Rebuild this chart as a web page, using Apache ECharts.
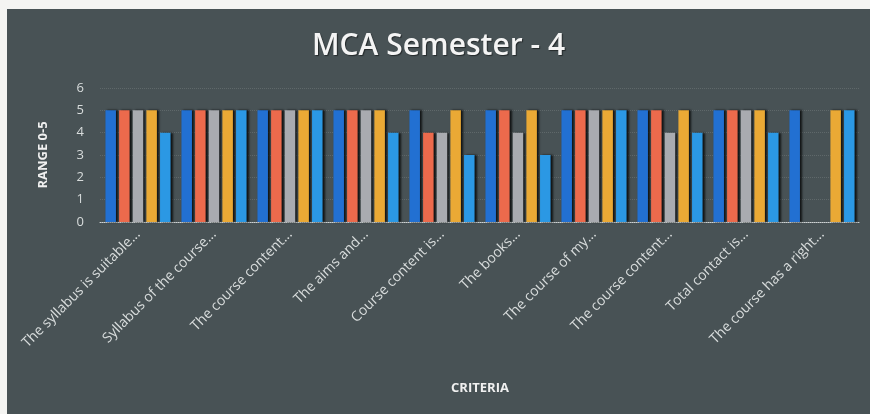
<!DOCTYPE html>
<html>
<head>
<meta charset="utf-8">
<script src="https://cdn.jsdelivr.net/npm/echarts@6/dist/echarts.min.js"></script>
<style>
  html, body { margin: 0; padding: 0; background: #f4f4f2; }
  #frame { position: absolute; left: 7px; top: 9px; width: 863px; height: 405px; background: #485255; }
  #chart { width: 100%; height: 100%; }
</style>
</head>
<body>
<div id="frame"><div id="chart"></div></div>
<script>
// 评价项目（横轴）
const criteria = [
  'The syllabus is suitable...',
  'Syllabus of the course...',
  'The course content...',
  'The aims and...',
  'Course content is...',
  'The books...',
  'The course of my...',
  'The course content...',
  'Total contact is...',
  'The course has a right...'
]

// 各系列评分
const series1 = [5, 5, 5, 5, 5, 5, 5, 5, 5, 5]
const series2 = [5, 5, 5, 5, 4, 5, 5, 5, 5, 0]
const series3 = [5, 5, 5, 5, 4, 4, 5, 4, 5, 0]
const series4 = [5, 5, 5, 5, 5, 5, 5, 5, 5, 5]
const series5 = [4, 5, 5, 4, 3, 3, 5, 4, 4, 5]

const seriesNames = ['Series 1', 'Series 2', 'Series 3', 'Series 4', 'Series 5']
const colors = ['#2270d2', '#ec6a4c', '#a9abb0', '#eaa935', '#2b98e4']

const chart = echarts.init(document.getElementById('chart'))

const makeBar = (name, data, color) => ({
  name,
  type: 'bar',
  data,
  barWidth: 10.5,
  barGap: '30%',
  itemStyle: {
    color,
    shadowColor: 'rgba(0,0,0,0.75)',
    shadowBlur: 2,
    shadowOffsetX: 2,
    shadowOffsetY: 0
  }
})

const option = {
  backgroundColor: 'transparent',
  title: {
    text: 'MCA Semester - 4',
    left: 'center',
    top: 17,
    textStyle: {
      color: '#f4f4f4',
      fontSize: 30,
      fontWeight: 600,
      fontFamily: 'Open Sans',
      textShadowColor: 'rgba(0,0,0,0.5)',
      textShadowOffsetX: 1,
      textShadowOffsetY: 1,
      textShadowBlur: 1
    }
  },
  grid: {
    left: 93,
    right: 10,
    top: 79,
    bottom: 192,
    containLabel: false
  },
  xAxis: {
    type: 'category',
    data: criteria,
    name: 'CRITERIA',
    nameLocation: 'middle',
    nameGap: 160,
    nameTextStyle: {
      color: '#f0f0f0',
      fontSize: 13,
      fontWeight: 'bold',
      fontFamily: 'Open Sans'
    },
    axisLine: { lineStyle: { color: '#cfd3d4', type: 'dotted', width: 1 } },
    axisTick: { show: false },
    axisLabel: {
      rotate: 45,
      interval: 0,
      color: '#d8dcdc',
      fontSize: 14,
      fontFamily: 'Open Sans',
      margin: 10
    }
  },
  yAxis: {
    type: 'value',
    min: 0,
    max: 6,
    interval: 1,
    name: 'RANGE 0-5',
    nameLocation: 'middle',
    nameGap: 50,
    nameRotate: 90,
    nameTextStyle: {
      color: '#f0f0f0',
      fontSize: 13,
      fontWeight: 'bold',
      fontFamily: 'Open Sans'
    },
    axisLine: { show: false },
    axisTick: { show: false },
    axisLabel: {
      color: '#d8dcdc',
      fontSize: 13,
      fontFamily: 'Open Sans',
      margin: 16
    },
    splitLine: {
      lineStyle: { color: 'rgba(200,205,205,0.18)', type: 'dotted' }
    }
  },
  series: [
    makeBar(seriesNames[0], series1, colors[0]),
    makeBar(seriesNames[1], series2, colors[1]),
    makeBar(seriesNames[2], series3, colors[2]),
    makeBar(seriesNames[3], series4, colors[3]),
    makeBar(seriesNames[4], series5, colors[4])
  ]
}

chart.setOption(option)

window.addEventListener('resize', () => {
  chart.resize()
})
</script>
</body>
</html>
